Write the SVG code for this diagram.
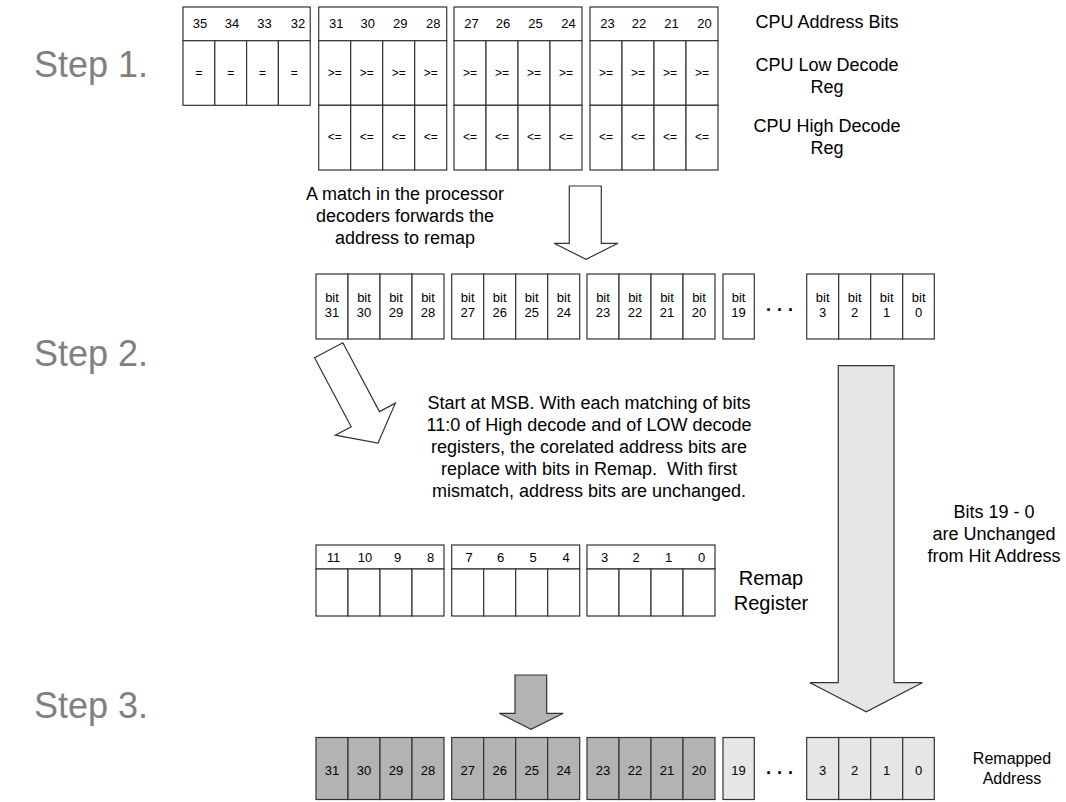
<svg xmlns="http://www.w3.org/2000/svg" width="1066" height="802" viewBox="0 0 1066 802">
<style>
.c{fill:#fff;stroke:#333;stroke-width:1.2}
.dk{fill:#b3b3b3;stroke:#333;stroke-width:1.2}
.lt{fill:#e6e6e6;stroke:#333;stroke-width:1.2}
text{font-family:"Liberation Sans",Arial,sans-serif;fill:#000}
.n{font-size:13px;text-anchor:middle}
.s{font-size:12px;text-anchor:middle}
.l{font-size:18px;text-anchor:middle}
.st{font-size:36px;fill:#808080}
</style>
<rect width="1066" height="802" fill="#fff"/>
<text class="st" x="34" y="77">Step 1.</text>
<text class="st" x="34" y="366">Step 2.</text>
<text class="st" x="34" y="718">Step 3.</text>

<g id="cpu-g1">
<rect class="c" x="183" y="7" width="127.2" height="33.7"/>
<rect class="c" x="183" y="40.7" width="31.8" height="64.6"/><rect class="c" x="214.8" y="40.7" width="31.8" height="64.6"/><rect class="c" x="246.6" y="40.7" width="31.8" height="64.6"/><rect class="c" x="278.4" y="40.7" width="31.8" height="64.6"/>
<text class="n" x="200" y="28">35</text><text class="n" x="232" y="28">34</text><text class="n" x="264.5" y="28">33</text><text class="n" x="298" y="28">32</text>
<text class="s" x="199" y="77">=</text><text class="s" x="230.7" y="77">=</text><text class="s" x="262.5" y="77">=</text><text class="s" x="294.3" y="77">=</text>
</g>
<g id="cpu-g2" transform="translate(318.7,0)">
<rect class="c" x="0" y="7" width="128" height="33.7"/>
<rect class="c" x="0" y="40.7" width="32" height="64.6"/><rect class="c" x="32" y="40.7" width="32" height="64.6"/><rect class="c" x="64" y="40.7" width="32" height="64.6"/><rect class="c" x="96" y="40.7" width="32" height="64.6"/>
<rect class="c" x="0" y="105.3" width="32" height="64.7"/><rect class="c" x="32" y="105.3" width="32" height="64.7"/><rect class="c" x="64" y="105.3" width="32" height="64.7"/><rect class="c" x="96" y="105.3" width="32" height="64.7"/>
<text class="n" x="17.5" y="28">31</text><text class="n" x="49" y="28">30</text><text class="n" x="81.5" y="28">29</text><text class="n" x="114.5" y="28">28</text>
<text class="s" x="16" y="77">&gt;=</text><text class="s" x="48" y="77">&gt;=</text><text class="s" x="80" y="77">&gt;=</text><text class="s" x="112" y="77">&gt;=</text>
<text class="s" x="16" y="141">&lt;=</text><text class="s" x="48" y="141">&lt;=</text><text class="s" x="80" y="141">&lt;=</text><text class="s" x="112" y="141">&lt;=</text>
</g>
<g id="cpu-g3" transform="translate(454,0)">
<rect class="c" x="0" y="7" width="128" height="33.7"/>
<rect class="c" x="0" y="40.7" width="32" height="64.6"/><rect class="c" x="32" y="40.7" width="32" height="64.6"/><rect class="c" x="64" y="40.7" width="32" height="64.6"/><rect class="c" x="96" y="40.7" width="32" height="64.6"/>
<rect class="c" x="0" y="105.3" width="32" height="64.7"/><rect class="c" x="32" y="105.3" width="32" height="64.7"/><rect class="c" x="64" y="105.3" width="32" height="64.7"/><rect class="c" x="96" y="105.3" width="32" height="64.7"/>
<text class="n" x="17.5" y="28">27</text><text class="n" x="49" y="28">26</text><text class="n" x="81.5" y="28">25</text><text class="n" x="114.5" y="28">24</text>
<text class="s" x="16" y="77">&gt;=</text><text class="s" x="48" y="77">&gt;=</text><text class="s" x="80" y="77">&gt;=</text><text class="s" x="112" y="77">&gt;=</text>
<text class="s" x="16" y="141">&lt;=</text><text class="s" x="48" y="141">&lt;=</text><text class="s" x="80" y="141">&lt;=</text><text class="s" x="112" y="141">&lt;=</text>
</g>
<g id="cpu-g4" transform="translate(590,0)">
<rect class="c" x="0" y="7" width="128" height="33.7"/>
<rect class="c" x="0" y="40.7" width="32" height="64.6"/><rect class="c" x="32" y="40.7" width="32" height="64.6"/><rect class="c" x="64" y="40.7" width="32" height="64.6"/><rect class="c" x="96" y="40.7" width="32" height="64.6"/>
<rect class="c" x="0" y="105.3" width="32" height="64.7"/><rect class="c" x="32" y="105.3" width="32" height="64.7"/><rect class="c" x="64" y="105.3" width="32" height="64.7"/><rect class="c" x="96" y="105.3" width="32" height="64.7"/>
<text class="n" x="17.5" y="28">23</text><text class="n" x="49" y="28">22</text><text class="n" x="81.5" y="28">21</text><text class="n" x="114.5" y="28">20</text>
<text class="s" x="16" y="77">&gt;=</text><text class="s" x="48" y="77">&gt;=</text><text class="s" x="80" y="77">&gt;=</text><text class="s" x="112" y="77">&gt;=</text>
<text class="s" x="16" y="141">&lt;=</text><text class="s" x="48" y="141">&lt;=</text><text class="s" x="80" y="141">&lt;=</text><text class="s" x="112" y="141">&lt;=</text>
</g>
<g id="cpu-labels">
<text class="l" x="827" y="28">CPU Address Bits</text>
<text class="l" x="827" y="71">CPU Low Decode</text><text class="l" x="827" y="93">Reg</text>
<text class="l" x="827" y="132">CPU High Decode</text><text class="l" x="827" y="154">Reg</text>
</g>

<g id="match-text">
<text class="l" x="405" y="200">A match in the processor</text>
<text class="l" x="405" y="222">decoders forwards the</text>
<text class="l" x="405" y="244">address to remap</text>
</g>

<g id="hit-address">
<g transform="translate(316,274)">
<rect class="c" x="0" y="0" width="32" height="65"/><rect class="c" x="32" y="0" width="32" height="65"/><rect class="c" x="64" y="0" width="32" height="65"/><rect class="c" x="96" y="0" width="32" height="65"/>
<text class="n" x="16" y="28">bit</text><text class="n" x="48" y="28">bit</text><text class="n" x="80" y="28">bit</text><text class="n" x="112" y="28">bit</text>
<text class="n" x="16" y="43">31</text><text class="n" x="48" y="43">30</text><text class="n" x="80" y="43">29</text><text class="n" x="112" y="43">28</text>
</g>
<g transform="translate(451.7,274)">
<rect class="c" x="0" y="0" width="32" height="65"/><rect class="c" x="32" y="0" width="32" height="65"/><rect class="c" x="64" y="0" width="32" height="65"/><rect class="c" x="96" y="0" width="32" height="65"/>
<text class="n" x="16" y="28">bit</text><text class="n" x="48" y="28">bit</text><text class="n" x="80" y="28">bit</text><text class="n" x="112" y="28">bit</text>
<text class="n" x="16" y="43">27</text><text class="n" x="48" y="43">26</text><text class="n" x="80" y="43">25</text><text class="n" x="112" y="43">24</text>
</g>
<g transform="translate(587,274)">
<rect class="c" x="0" y="0" width="32" height="65"/><rect class="c" x="32" y="0" width="32" height="65"/><rect class="c" x="64" y="0" width="32" height="65"/><rect class="c" x="96" y="0" width="32" height="65"/>
<text class="n" x="16" y="28">bit</text><text class="n" x="48" y="28">bit</text><text class="n" x="80" y="28">bit</text><text class="n" x="112" y="28">bit</text>
<text class="n" x="16" y="43">23</text><text class="n" x="48" y="43">22</text><text class="n" x="80" y="43">21</text><text class="n" x="112" y="43">20</text>
</g>
<g transform="translate(723,274)">
<rect class="c" x="0" y="0" width="31.3" height="65"/>
<text class="n" x="15.6" y="28">bit</text><text class="n" x="15.6" y="43">19</text>
</g>
<text x="780" y="316" style="font-size:18px;text-anchor:middle;font-weight:bold">· · ·</text>
<g transform="translate(806.7,274)">
<rect class="c" x="0" y="0" width="32" height="65"/><rect class="c" x="32" y="0" width="32" height="65"/><rect class="c" x="64" y="0" width="32" height="65"/><rect class="c" x="96" y="0" width="31.6" height="65"/>
<text class="n" x="16" y="28">bit</text><text class="n" x="48" y="28">bit</text><text class="n" x="80" y="28">bit</text><text class="n" x="112" y="28">bit</text>
<text class="n" x="16" y="43">3</text><text class="n" x="48" y="43">2</text><text class="n" x="80" y="43">1</text><text class="n" x="112" y="43">0</text>
</g>
</g>

<g id="para">
<text class="l" x="589" y="409">Start at MSB. With each matching of bits</text>
<text class="l" x="589" y="431">11:0 of High decode and of LOW decode</text>
<text class="l" x="589" y="453">registers, the corelated address bits are</text>
<text class="l" x="589" y="475" xml:space="preserve">replace with bits in Remap.  With first</text>
<text class="l" x="589" y="497">mismatch, address bits are unchanged.</text>
</g>

<g id="remap">
<g transform="translate(316,545)">
<rect class="c" x="0" y="0" width="128" height="24"/>
<rect class="c" x="0" y="24" width="32" height="47"/><rect class="c" x="32" y="24" width="32" height="47"/><rect class="c" x="64" y="24" width="32" height="47"/><rect class="c" x="96" y="24" width="32" height="47"/>
<text class="n" x="17.5" y="17">11</text><text class="n" x="49" y="17">10</text><text class="n" x="81.5" y="17">9</text><text class="n" x="114.5" y="17">8</text>
</g>
<g transform="translate(451.7,545)">
<rect class="c" x="0" y="0" width="128" height="24"/>
<rect class="c" x="0" y="24" width="32" height="47"/><rect class="c" x="32" y="24" width="32" height="47"/><rect class="c" x="64" y="24" width="32" height="47"/><rect class="c" x="96" y="24" width="32" height="47"/>
<text class="n" x="17.5" y="17">7</text><text class="n" x="49" y="17">6</text><text class="n" x="81.5" y="17">5</text><text class="n" x="114.5" y="17">4</text>
</g>
<g transform="translate(587,545)">
<rect class="c" x="0" y="0" width="128" height="24"/>
<rect class="c" x="0" y="24" width="32" height="47"/><rect class="c" x="32" y="24" width="32" height="47"/><rect class="c" x="64" y="24" width="32" height="47"/><rect class="c" x="96" y="24" width="32" height="47"/>
<text class="n" x="17.5" y="17">3</text><text class="n" x="49" y="17">2</text><text class="n" x="81.5" y="17">1</text><text class="n" x="114.5" y="17">0</text>
</g>
<text x="771" y="585" style="font-size:20px;text-anchor:middle">Remap</text>
<text x="771" y="610" style="font-size:20px;text-anchor:middle">Register</text>
</g>

<g id="unchanged-label">
<text class="l" x="994" y="518">Bits 19 - 0</text>
<text class="l" x="994" y="540">are Unchanged</text>
<text class="l" x="994" y="562">from Hit Address</text>
</g>

<g id="remapped">
<g transform="translate(316,737.5)">
<rect class="dk" x="0" y="0" width="32" height="62"/><rect class="dk" x="32" y="0" width="32" height="62"/><rect class="dk" x="64" y="0" width="32" height="62"/><rect class="dk" x="96" y="0" width="32" height="62"/>
<text class="n" x="16" y="37">31</text><text class="n" x="48" y="37">30</text><text class="n" x="80" y="37">29</text><text class="n" x="112" y="37">28</text>
</g>
<g transform="translate(451.7,737.5)">
<rect class="dk" x="0" y="0" width="32" height="62"/><rect class="dk" x="32" y="0" width="32" height="62"/><rect class="dk" x="64" y="0" width="32" height="62"/><rect class="dk" x="96" y="0" width="32" height="62"/>
<text class="n" x="16" y="37">27</text><text class="n" x="48" y="37">26</text><text class="n" x="80" y="37">25</text><text class="n" x="112" y="37">24</text>
</g>
<g transform="translate(587,737.5)">
<rect class="dk" x="0" y="0" width="32" height="62"/><rect class="dk" x="32" y="0" width="32" height="62"/><rect class="dk" x="64" y="0" width="32" height="62"/><rect class="dk" x="96" y="0" width="32" height="62"/>
<text class="n" x="16" y="37">23</text><text class="n" x="48" y="37">22</text><text class="n" x="80" y="37">21</text><text class="n" x="112" y="37">20</text>
</g>
<g transform="translate(723,737.5)">
<rect class="lt" x="0" y="0" width="31.3" height="62"/>
<text class="n" x="15.6" y="37">19</text>
</g>
<text x="780" y="779" style="font-size:18px;text-anchor:middle;font-weight:bold">· · ·</text>
<g transform="translate(806.7,737.5)">
<rect class="lt" x="0" y="0" width="32" height="62"/><rect class="lt" x="32" y="0" width="32" height="62"/><rect class="lt" x="64" y="0" width="32" height="62"/><rect class="lt" x="96" y="0" width="31.6" height="62"/>
<text class="n" x="16" y="37">3</text><text class="n" x="48" y="37">2</text><text class="n" x="80" y="37">1</text><text class="n" x="112" y="37">0</text>
</g>
<text x="1012" y="764" style="font-size:16px;text-anchor:middle">Remapped</text>
<text x="1012" y="784" style="font-size:16px;text-anchor:middle">Address</text>
</g>

<g id="connectors">
<polygon class="c" points="569.3,186 601.3,186 601.3,243.3 618,243.3 586,259.3 554,243.3 569.3,243.3"/>
<polygon class="c" transform="translate(378,443) rotate(-28)" points="-16,-105 16,-105 16,-27 34,-27 0,0 -34,-27 -16,-27"/>
<polygon class="lt" points="838.3,365.7 894,365.7 894,682.7 922.3,682.7 866.2,711.7 810,682.7 838.3,682.7"/>
<polygon class="dk" points="515,675 546.7,675 546.7,713.3 563.3,713.3 531,729.3 499.3,713.3 515,713.3"/>
</g>
</svg>
